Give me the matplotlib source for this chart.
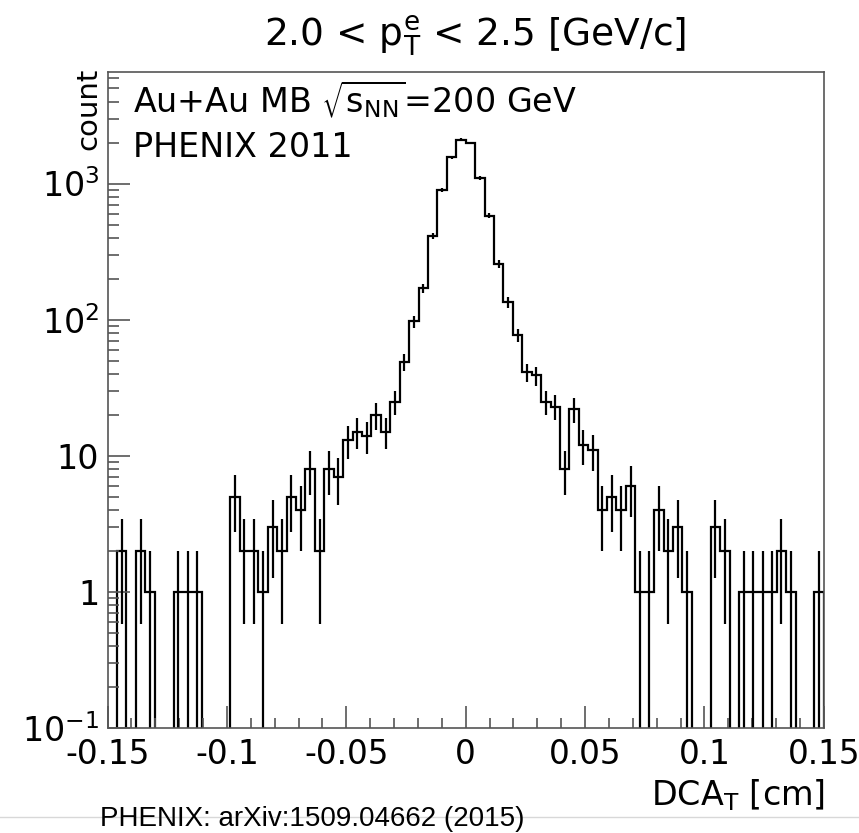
import numpy as np
import matplotlib
matplotlib.use("Agg")
import matplotlib.pyplot as plt
from matplotlib.lines import Line2D
from matplotlib.ticker import FixedLocator, MultipleLocator, LogLocator, NullFormatter

# DCA_T Histogramm, 76 Bins von -0.15 bis 0.15 cm
bin_edges = np.linspace(-0.15, 0.15, 77)
counts = np.array([
    0, 2, 0, 2, 1, 0, 0, 1, 1, 1,
    0, 0, 0, 5, 2, 2, 1, 3, 2, 5,
    4, 8, 2, 8, 7, 13, 15, 14, 20, 15,
    25, 49, 97, 170, 415, 890, 1560, 2100, 1990, 1100,
    580, 257, 134, 77, 41, 39, 25, 23, 8, 22,
    12, 11, 4, 5, 4, 6, 1, 1, 4, 2,
    3, 1, 0, 0, 3, 2, 0, 1, 1, 1,
    1, 2, 1, 0, 0, 1,
], dtype=float)

xtick_vals = [-0.15, -0.1, -0.05, 0, 0.05, 0.1, 0.15]
xtick_labels = ['-0.15', '-0.1', '-0.05', '0', '0.05', '0.1', '0.15']
ytick_vals = [0.1, 1, 10, 100, 1000]
ytick_labels = [r'$10^{-1}$', '1', '10', r'$10^{2}$', r'$10^{3}$']

plt.rcParams['font.family'] = ['DejaVu Sans']
plt.rcParams['mathtext.default'] = 'regular'

W, H = 859, 833
fig = plt.figure(figsize=(W / 100, H / 100), dpi=100)
ax = fig.add_axes([107.6 / W, 1 - 728 / H, (823.8 - 107.6) / W, (728 - 72) / H])

# Histogramm-Umriss (leere Bins gehen bis ganz nach unten)
floor = 1e-3
ax.stairs(np.where(counts > 0, counts, floor), bin_edges, baseline=floor,
          color='black', linewidth=1.6)

# Fehlerbalken sqrt(N)
centers = 0.5 * (bin_edges[:-1] + bin_edges[1:])
nz = counts > 0
err = np.sqrt(counts[nz])
err_lo = np.where(counts[nz] - err > 0, err, counts[nz] - floor)
ax.errorbar(centers[nz], counts[nz], yerr=[err_lo, err], fmt='none',
            ecolor='black', elinewidth=1.6, capsize=0)

ax.set_yscale('log')
ax.set_xlim(-0.15, 0.15)
ax.set_ylim(0.1, 6600)

ax.xaxis.set_major_locator(FixedLocator(xtick_vals))
ax.set_xticklabels(xtick_labels)
ax.xaxis.set_minor_locator(MultipleLocator(0.01))
ax.yaxis.set_major_locator(FixedLocator(ytick_vals))
ax.set_yticklabels(ytick_labels)
ax.yaxis.set_minor_locator(LogLocator(base=10, subs=np.arange(2, 10)))
ax.yaxis.set_minor_formatter(NullFormatter())

ax.tick_params(axis='both', which='both', direction='in', top=False, right=False,
               color='#555555', width=1.2, labelsize=24)
ax.tick_params(axis='x', which='major', length=16, pad=7, labelsize=23.5)
ax.tick_params(axis='x', which='minor', length=7)
ax.tick_params(axis='y', which='major', length=16, pad=6)
ax.tick_params(axis='y', which='minor', length=8)
for sp in ax.spines.values():
    sp.set_color('#555555')
    sp.set_linewidth(1.2)

# Beschriftungen
fig.text(475 / W, 1 - 46 / H, r'2.0 < $p_{T}^{e}$ < 2.5 [GeV/c]',
         ha='center', va='baseline', fontsize=27)
fig.text(133 / W, 1 - 113 / H, r'Au+Au MB $\sqrt{s_{NN}}$=200 GeV',
         ha='left', va='baseline', fontsize=24)
fig.text(133 / W, 1 - 157 / H, 'PHENIX 2011',
         ha='left', va='baseline', fontsize=24)
fig.text(88 / W, 1 - 68 / H, 'count', rotation=90,
         ha='center', va='top', fontsize=21)
fig.text(825 / W, 1 - 805 / H, r'DCA$_{T}$ [cm]',
         ha='right', va='baseline', fontsize=24)

fig.add_artist(Line2D([0, 1], [1 - 817 / H, 1 - 817 / H], transform=fig.transFigure,
                      color='#d8d8d8', linewidth=1))
fig.text(100 / W, 1 - 826 / H, 'PHENIX: arXiv:1509.04662 (2015)',
         ha='left', va='baseline', fontsize=20, family=['Liberation Sans'])

plt.savefig('out.png', dpi=100)
